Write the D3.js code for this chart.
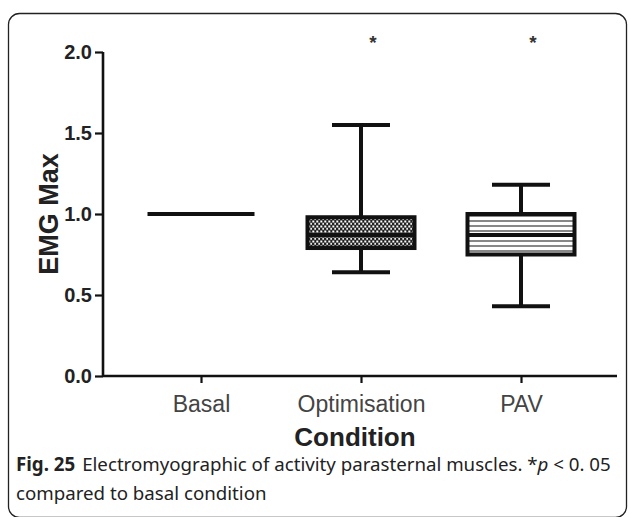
<!DOCTYPE html>
<html><head><meta charset="utf-8">
<script src="https://cdn.jsdelivr.net/npm/d3@7"></script>
<style>body{margin:0;background:#fff}svg{display:block}</style>
</head><body>
<script>
const categories = ["Basal", "Optimisation", "PAV"];
const whiskerLow = [1.0, 0.64, 0.43];
const q1 = [1.0, 0.79, 0.75];
const median = [1.0, 0.87, 0.87];
const q3 = [1.0, 0.98, 1.0];
const whiskerHigh = [1.0, 1.55, 1.18];
const significant = [false, true, true];
const yTicks = [0.0, 0.5, 1.0, 1.5, 2.0];
const fills = ["none", "url(#dots)", "url(#stripes)"];

const W = 629, H = 517;
const svg = d3.select("body").append("svg").attr("width", W).attr("height", H);
const defs = svg.append("defs");
const dots = defs.append("pattern").attr("id", "dots").attr("patternUnits", "userSpaceOnUse")
  .attr("width", 4).attr("height", 5);
dots.append("rect").attr("width", 4).attr("height", 5).attr("fill", "#222");
dots.append("rect").attr("x", 0.3).attr("y", 0.5).attr("width", 2).attr("height", 2).attr("fill", "#fafafa");
dots.append("rect").attr("x", 2.3).attr("y", 2.8).attr("width", 2).attr("height", 2).attr("fill", "#eaeaea");
const stripes = defs.append("pattern").attr("id", "stripes").attr("patternUnits", "userSpaceOnUse")
  .attr("width", 10).attr("height", 5);
stripes.append("rect").attr("width", 10).attr("height", 5).attr("fill", "#fff");
stripes.append("rect").attr("y", 0).attr("width", 10).attr("height", 2).attr("fill", "#888");

// frame
svg.append("rect").attr("x", 8.5).attr("y", 13.5).attr("width", 618).attr("height", 504)
  .attr("rx", 11).attr("fill", "none").attr("stroke", "#222").attr("stroke-width", 1.3);

const y = d3.scaleLinear().domain([0, 2]).range([376, 52]);
const x = d3.scalePoint().domain(categories).range([201, 521]);
const axisLeft = 103, axisRight = 617;
const sans = "Liberation Sans, Arial, sans-serif";

const g = svg.append("g");
const yAxis = g.append("g").attr("transform", `translate(${axisLeft},0)`)
  .call(d3.axisLeft(y).tickValues(yTicks).tickFormat(d3.format(".1f")).tickSize(8).tickPadding(3));
yAxis.select(".domain").attr("stroke", "#111").attr("stroke-width", 2.6)
  .attr("d", `M0,${y(0)}V${y(2)}`);
yAxis.selectAll(".tick line").attr("stroke", "#111").attr("stroke-width", 2.2);
yAxis.selectAll(".tick text").attr("font-family", sans)
  .attr("font-weight", "bold").attr("font-size", 20).attr("fill", "#222");

const xAxis = g.append("g").attr("transform", `translate(0,${y(0)})`)
  .call(d3.axisBottom(x).tickSize(7).tickPadding(13));
xAxis.select(".domain").attr("stroke", "#111").attr("stroke-width", 2.6)
  .attr("d", `M${axisLeft},0H${axisRight}`);
xAxis.selectAll(".tick line").attr("stroke", "#111").attr("stroke-width", 2.2);
xAxis.selectAll(".tick text").attr("font-family", sans)
  .attr("font-size", 23).attr("fill", "#444");

// axis titles
svg.append("text").attr("x", 355).attr("y", 446).attr("text-anchor", "middle")
  .attr("font-family", sans).attr("font-weight", "bold")
  .attr("font-size", 26).attr("fill", "#222").text("Condition");
svg.append("text").attr("transform", `translate(58,${y(1)}) rotate(-90)`).attr("text-anchor", "middle")
  .attr("font-family", sans).attr("font-weight", "bold")
  .attr("font-size", 27).attr("fill", "#222").text("EMG Max");

// boxes
const boxW = 107, capW = 58, sw = 4;
categories.forEach((c, i) => {
  const cx = x(c);
  const bg = svg.append("g");
  if (whiskerHigh[i] > q3[i]) {
    bg.append("line").attr("x1", cx).attr("x2", cx).attr("y1", y(q3[i])).attr("y2", y(whiskerHigh[i]))
      .attr("stroke", "#111").attr("stroke-width", sw);
    bg.append("line").attr("x1", cx - capW / 2).attr("x2", cx + capW / 2).attr("y1", y(whiskerHigh[i])).attr("y2", y(whiskerHigh[i]))
      .attr("stroke", "#111").attr("stroke-width", sw);
  }
  if (whiskerLow[i] < q1[i]) {
    bg.append("line").attr("x1", cx).attr("x2", cx).attr("y1", y(q1[i])).attr("y2", y(whiskerLow[i]))
      .attr("stroke", "#111").attr("stroke-width", sw);
    bg.append("line").attr("x1", cx - capW / 2).attr("x2", cx + capW / 2).attr("y1", y(whiskerLow[i])).attr("y2", y(whiskerLow[i]))
      .attr("stroke", "#111").attr("stroke-width", sw);
  }
  if (q3[i] > q1[i]) {
    bg.append("rect").attr("x", cx - boxW / 2).attr("y", y(q3[i])).attr("width", boxW)
      .attr("height", y(q1[i]) - y(q3[i])).attr("fill", fills[i])
      .attr("stroke", "#111").attr("stroke-width", sw);
  }
  bg.append("line").attr("x1", cx - boxW / 2).attr("x2", cx + boxW / 2).attr("y1", y(median[i])).attr("y2", y(median[i]))
    .attr("stroke", "#111").attr("stroke-width", sw);
  if (significant[i]) {
    svg.append("text").attr("x", cx + 12).attr("y", 49).attr("text-anchor", "middle")
      .attr("font-family", sans).attr("font-weight", "bold")
      .attr("font-size", 19).attr("fill", "#333").text("*");
  }
});

// caption
const capFont = "Noto Sans, Open Sans, sans-serif";
const cap = svg.append("text").attr("x", 16).attr("y", 471)
  .attr("font-family", capFont).attr("font-size", 18.7).attr("fill", "#222");
cap.append("tspan").attr("font-weight", "bold").text("Fig. 25");
cap.append("tspan").attr("dx", 7).text("Electromyographic of activity parasternal muscles. *");
cap.append("tspan").attr("font-style", "italic").text("p");
cap.append("tspan").text(" < 0. 05");
svg.append("text").attr("x", 16).attr("y", 500)
  .attr("font-family", capFont).attr("font-size", 18.7).attr("fill", "#222")
  .text("compared to basal condition");
</script>
</body></html>
